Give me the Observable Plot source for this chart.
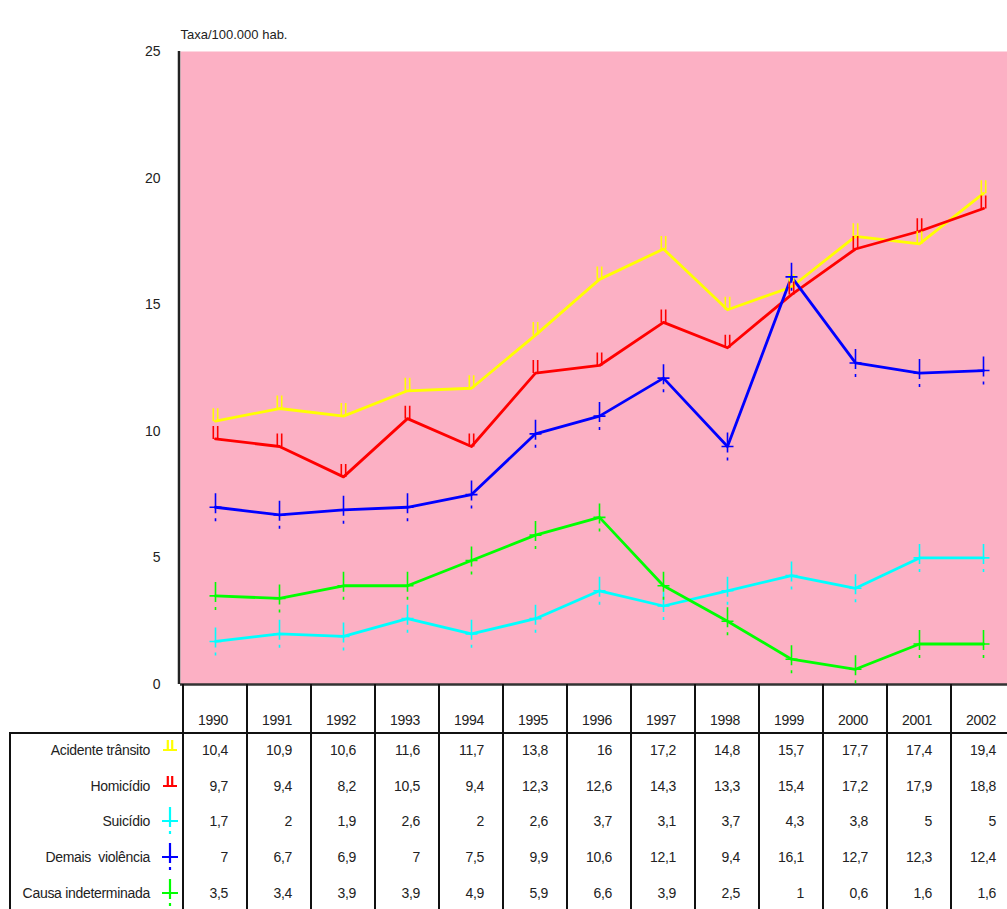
<!DOCTYPE html>
<html>
<head>
<meta charset="utf-8">
<script src="https://cdn.jsdelivr.net/npm/d3@7"></script>
<script src="https://cdn.jsdelivr.net/npm/@observablehq/plot@0.6"></script>
<style>
  html, body { margin: 0; padding: 0; background: #fff; overflow: hidden; }
  #wrap { position: relative; width: 1007px; height: 909px; overflow: hidden; font-family: "Liberation Sans", Arial, sans-serif; color: #222; }
  #wrap svg { display: block; }
  .ln { position: absolute; background: #111; }
  .tx { position: absolute; font-size: 14px; line-height: 16px; white-space: pre; letter-spacing: -0.3px; }
</style>
</head>
<body>
<div id="wrap"></div>
<script>
const years = [1990,1991,1992,1993,1994,1995,1996,1997,1998,1999,2000,2001,2002];
const seriesNames = ["Acidente trânsito","Homicídio","Suicídio","Demais  violência","Causa indeterminada"];
const seriesColors = ["#FFFF00","#FF0000","#00FFFF","#0000FF","#00FF00"];
const acidente = [10.4,10.9,10.6,11.6,11.7,13.8,16,17.2,14.8,15.7,17.7,17.4,19.4];
const homicidio = [9.7,9.4,8.2,10.5,9.4,12.3,12.6,14.3,13.3,15.4,17.2,17.9,18.8];
const suicidio = [1.7,2,1.9,2.6,2,2.6,3.7,3.1,3.7,4.3,3.8,5,5];
const demais = [7,6.7,6.9,7,7.5,9.9,10.6,12.1,9.4,16.1,12.7,12.3,12.4];
const causa = [3.5,3.4,3.9,3.9,4.9,5.9,6.6,3.9,2.5,1,0.6,1.6,1.6];
const seriesValues = [acidente, homicidio, suicidio, demais, causa];
const yTicks = [0,5,10,15,20,25];
const yTitle = "Taxa/100.000 hab.";

const data = [];
seriesNames.forEach((s, i) => years.forEach((yr, j) => data.push({series: s, year: yr, value: seriesValues[i][j]})));

// custom marker symbols
const barsSym = { draw(ctx) { ctx.moveTo(-2.2,-13); ctx.lineTo(-2.2,0); ctx.moveTo(2.2,-13); ctx.lineTo(2.2,0); } };
const plusSym = { draw(ctx) {
  ctx.moveTo(0,-14); ctx.lineTo(0,6);
  ctx.moveTo(-6,0); ctx.lineTo(6,0);
  ctx.moveTo(0,11); ctx.lineTo(0,14);
} };
const symbols = [barsSym, barsSym, plusSym, plusSym, plusSym];

const W = 1007, H = 685;
const marks = [
  Plot.frame({fill: "#FCB0C4", stroke: null}),
  Plot.axisY({ticks: yTicks, tickSize: 0, tickPadding: 20, fontSize: 14, label: null, tickFormat: d => String(d)}),
  Plot.ruleY([0], {stroke: "#333", strokeWidth: 2.5}),
  Plot.text([yTitle], {frameAnchor: "top-left", dy: -22, dx: 0, textAnchor: "start", fontSize: 13, fill: "#222"})
];
seriesNames.forEach((s, i) => {
  const d = data.filter(r => r.series === s);
  marks.push(Plot.line(d, {x: "year", y: "value", stroke: seriesColors[i], strokeWidth: 2.8}));
});
seriesNames.forEach((s, i) => {
  const d = data.filter(r => r.series === s);
  marks.push(Plot.dot(d, {x: "year", y: "value", symbol: symbols[i], stroke: seriesColors[i], fill: "none", strokeWidth: 1.6, r: 5}));
});

const chart = Plot.plot({
  width: W, height: H,
  marginLeft: 180, marginTop: 51, marginBottom: 1, marginRight: 0,
  style: {fontFamily: "Liberation Sans, Arial, sans-serif", color: "#222", background: "#fff", overflow: "visible"},
  x: {type: "point", domain: years, range: [180, 1017], padding: 0.5, axis: null},
  y: {domain: [0, 25]},
  marks
});

const wrap = document.getElementById("wrap");
wrap.appendChild(chart);

// left axis line
const svgNS = "http://www.w3.org/2000/svg";
(function addLeftLine(){
  const yS = chart.scale("y");
  const l = document.createElementNS(svgNS, "line");
  l.setAttribute("x1", 179); l.setAttribute("x2", 179);
  l.setAttribute("y1", yS.apply(25)); l.setAttribute("y2", yS.apply(0));
  l.setAttribute("stroke", "#222"); l.setAttribute("stroke-width", 2.5);
  chart.appendChild(l);
})();

// data table, aligned to the x scale
const xS = chart.scale("x");
const step = xS.apply(years[1]) - xS.apply(years[0]);
const top0 = H - 1;          // bottom axis line
const headerBottom = 732;
const rowCenters = [750, 786, 821, 857, 893];

function div(cls, style, text) {
  const e = document.createElement("div");
  e.className = cls;
  Object.assign(e.style, style);
  if (text != null) e.textContent = text;
  wrap.appendChild(e);
  return e;
}
const fmt = v => String(v).replace(".", ",");

years.forEach((yr, j) => {
  const cx = xS.apply(yr);
  const left = cx - step / 2;
  div("ln", {left: (left - 1) + "px", top: top0 + "px", width: "2px", height: (909 - top0) + "px"});
  div("tx", {left: (left) + "px", width: (step - 19) + "px", top: "712px", textAlign: "right"}, String(yr));
  seriesValues.forEach((vals, i) => {
    div("tx", {left: (left) + "px", width: (step - 19) + "px", top: (rowCenters[i] - 8) + "px", textAlign: "right"}, fmt(vals[j]));
  });
});
div("ln", {left: "10px", top: headerBottom + "px", width: "1000px", height: "2px"});
div("ln", {left: "9px", top: headerBottom + "px", width: "2px", height: (909 - headerBottom) + "px"});

seriesNames.forEach((s, i) => {
  div("tx", {left: "0px", width: "150px", top: (rowCenters[i] - 8) + "px", textAlign: "right"}, s);
  const sv = document.createElementNS(svgNS, "svg");
  sv.setAttribute("width", 24); sv.setAttribute("height", 36);
  sv.style.position = "absolute"; sv.style.left = "158px"; sv.style.top = (rowCenters[i] - 18) + "px";
  const p = document.createElementNS(svgNS, "path");
  const c = seriesColors[i];
  let d;
  if (i < 2) d = "M5,18 L19,18 M9.8,18 L9.8,8 M14.2,18 L14.2,8";
  else d = "M4,18 L20,18 M12,4 L12,24 M12,28 L12,31";
  p.setAttribute("d", d); p.setAttribute("stroke", c); p.setAttribute("stroke-width", 2.2); p.setAttribute("fill", "none");
  sv.appendChild(p);
  wrap.appendChild(sv);
});
</script>
</body>
</html>
